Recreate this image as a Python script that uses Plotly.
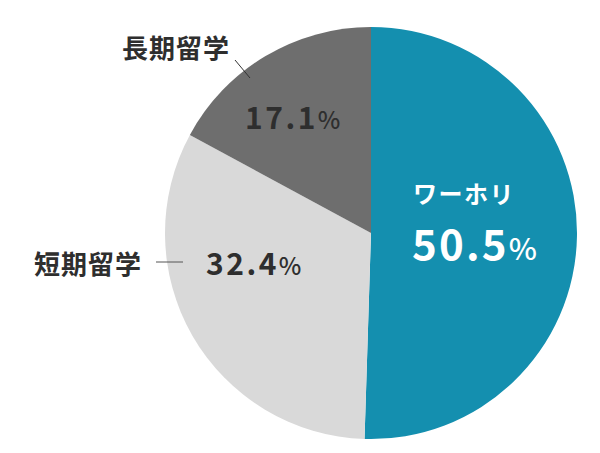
import plotly.graph_objects as go

labels = ["ワーホリ", "短期留学", "長期留学"]
values = [50.5, 32.4, 17.1]
colors = ["#148FAF", "#D9D9D9", "#6E6E6E"]

W, H = 600, 453
cx, cy, R = 371, 233, 206

def px(x):
    return x / W

def py(y):
    return 1 - y / H

fig = go.Figure(go.Pie(
    labels=labels, values=values, sort=False, direction="clockwise", rotation=0,
    marker=dict(colors=colors, line=dict(width=0)),
    textinfo="none", hoverinfo="label+percent", showlegend=False,
    domain=dict(x=[px(cx - R), px(cx + R)], y=[py(cy + R), py(cy - R)]),
))

FONT = "Noto Sans CJK JP"
dark = "#2E2E2E"

def pct(v, big, small, ls):
    return (f"<span style='font-size:{big}px;letter-spacing:{ls}px'>{v}</span>"
            f"<span style='font-size:{small}px;font-weight:500'>%</span>")

def lab(t, ls):
    return f"<span style='letter-spacing:{ls}px'>{t}</span>"

ann = []
# ワーホリ
ann.append(dict(x=px(411), y=py(193), xanchor="left", yanchor="middle",
                text=lab(labels[0], 1.5), font=dict(family=FONT, size=24, color="white", weight=700)))
ann.append(dict(x=px(410), y=py(241), xanchor="left", yanchor="middle",
                text=pct(values[0], 42, 30, 2.2), font=dict(family=FONT, size=42, color="white", weight=700)))
# 短期留学
ann.append(dict(x=px(204), y=py(262), xanchor="left", yanchor="middle",
                text=pct(values[1], 30, 24, 2.5), font=dict(family=FONT, size=30, color=dark, weight=700)))
ann.append(dict(x=px(144), y=py(262), xanchor="right", yanchor="middle",
                text=lab(labels[1], 1), font=dict(family=FONT, size=26, color=dark, weight=700)))
# 長期留学
ann.append(dict(x=px(243), y=py(116), xanchor="left", yanchor="middle",
                text=pct(values[2], 30, 24, 2.5), font=dict(family=FONT, size=30, color=dark, weight=700)))
ann.append(dict(x=px(232), y=py(47), xanchor="right", yanchor="middle",
                text=lab(labels[2], 1), font=dict(family=FONT, size=26, color=dark, weight=700)))
for a in ann:
    a.update(xref="paper", yref="paper", showarrow=False)

shapes = [
    dict(type="line", xref="paper", yref="paper", x0=px(156), y0=py(262), x1=px(183), y1=py(262),
         line=dict(color="#555555", width=1)),
    dict(type="line", xref="paper", yref="paper", x0=px(235), y0=py(60), x1=px(250), y1=py(78),
         line=dict(color="#333333", width=1)),
]

fig.update_layout(width=W, height=H, margin=dict(l=0, r=0, t=0, b=0),
                  paper_bgcolor="white", plot_bgcolor="white",
                  annotations=ann, shapes=shapes)

fig.write_html("out.html")
